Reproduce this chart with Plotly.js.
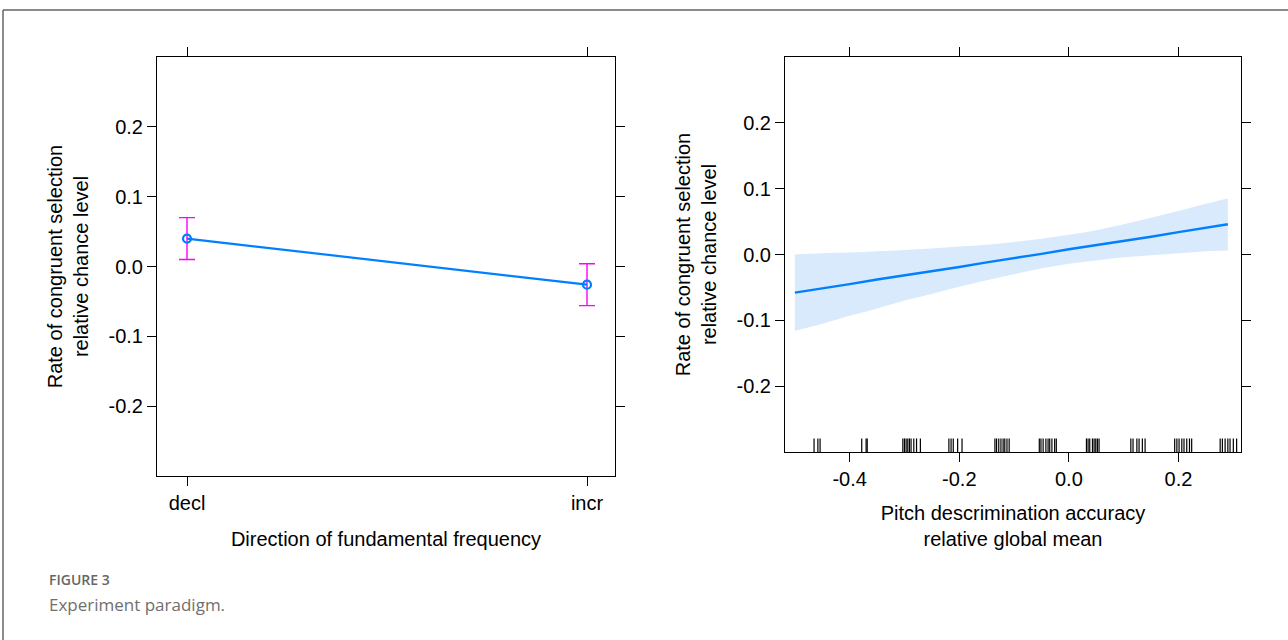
<!DOCTYPE html>
<html>
<head>
<meta charset="utf-8">
<script src="https://cdn.plot.ly/plotly-3.0.1.min.js"></script>
<style>html,body{margin:0;padding:0;background:#fff;}#chart{width:1288px;height:640px;}</style>
</head>
<body>
<div id="chart"></div>
<script>
// ---- Left panel data ----
const directions = ['decl', 'incr'];
const effect = [0.040, -0.026];
const ciUpper = [0.070, 0.004];
const ciLower = [0.010, -0.056];

// ---- Right panel data ----
const pitchX = [-0.50, -0.45, -0.40, -0.35, -0.30, -0.25, -0.20, -0.15, -0.10, -0.05, 0.00, 0.05, 0.10, 0.15, 0.20, 0.25, 0.29];
const fitY = [-0.058, -0.052, -0.045, -0.038, -0.032, -0.025, -0.019, -0.012, -0.006, 0.001, 0.008, 0.014, 0.021, 0.027, 0.034, 0.041, 0.046];
const bandUpper = [0.000, 0.002, 0.003, 0.005, 0.007, 0.009, 0.012, 0.015, 0.019, 0.024, 0.030, 0.037, 0.046, 0.056, 0.066, 0.077, 0.085];
const bandLower = [-0.116, -0.105, -0.093, -0.082, -0.070, -0.060, -0.049, -0.039, -0.030, -0.021, -0.014, -0.009, -0.004, -0.001, 0.002, 0.005, 0.006];
const rugX = [-0.465, -0.458, -0.454,
  -0.378, -0.370, -0.368,
  -0.303, -0.300, -0.297, -0.294, -0.291, -0.288, -0.283, -0.278, -0.271,
  -0.219, -0.215, -0.211, -0.203, -0.195,
  -0.135, -0.132, -0.128, -0.124, -0.120, -0.117, -0.113, -0.109,
  -0.054, -0.051, -0.047, -0.042, -0.038, -0.035, -0.031, -0.026, -0.023,
  0.032, 0.035, 0.038, 0.043, 0.046, 0.049, 0.052, 0.055,
  0.113, 0.117, 0.124, 0.128, 0.134, 0.139,
  0.193, 0.197, 0.201, 0.206, 0.210, 0.215, 0.220, 0.224,
  0.276, 0.280, 0.285, 0.290, 0.294, 0.300, 0.306];

// ---- Tick labels ----
const yTickVals = [-0.2, -0.1, 0.0, 0.1, 0.2];
const yTickText = ['-0.2', '-0.1', '0.0', '0.1', '0.2'];
const xTickVals = [-0.4, -0.2, 0.0, 0.2];
const xTickText = ['-0.4', '-0.2', '0.0', '0.2'];

const blue = '#0080ff';
const magenta = '#ff00ff';
const FONT = 'Liberation Sans, Arial, Helvetica, sans-serif';

const errPlus = effect.map((v, i) => ciUpper[i] - v);
const errMinus = effect.map((v, i) => v - ciLower[i]);

const traces = [
  {
    x: directions, y: effect, xaxis: 'x', yaxis: 'y',
    type: 'scatter', mode: 'lines+markers',
    line: {color: blue, width: 2.2},
    marker: {symbol: 'circle-open', size: 8, color: blue, line: {width: 2.2, color: blue}},
    error_y: {type: 'data', symmetric: false, array: errPlus, arrayminus: errMinus,
      color: magenta, thickness: 1.4, width: 8},
    hoverinfo: 'x+y', showlegend: false
  },
  {
    x: pitchX, y: bandLower, xaxis: 'x2', yaxis: 'y2',
    type: 'scatter', mode: 'lines', line: {width: 0, color: 'rgba(0,0,0,0)', shape: 'spline'},
    showlegend: false, hoverinfo: 'skip'
  },
  {
    x: pitchX, y: bandUpper, xaxis: 'x2', yaxis: 'y2',
    type: 'scatter', mode: 'lines', line: {width: 0, color: 'rgba(0,0,0,0)', shape: 'spline'},
    fill: 'tonexty', fillcolor: '#d9eafc',
    showlegend: false, hoverinfo: 'skip'
  },
  {
    x: pitchX, y: fitY, xaxis: 'x2', yaxis: 'y2',
    type: 'scatter', mode: 'lines', line: {color: blue, width: 2.4},
    showlegend: false
  },
  {
    x: rugX, y: rugX.map(() => -0.29), xaxis: 'x2', yaxis: 'y2',
    type: 'scatter', mode: 'markers',
    marker: {symbol: 'line-ns-open', size: 10, color: '#000', line: {width: 1.2, color: '#000'}},
    showlegend: false, hoverinfo: 'x'
  }
];

const axisBase = {
  showline: true, linecolor: '#000', linewidth: 1, mirror: 'ticks',
  ticks: 'outside', ticklen: 9, tickwidth: 1, tickcolor: '#000',
  showgrid: false, zeroline: false,
  tickfont: {family: FONT, size: 20, color: '#000'}
};
const titleFont = {family: FONT, size: 20, color: '#000'};

const layout = {
  width: 1288, height: 640,
  margin: {l: 0, r: 0, t: 0, b: 0},
  paper_bgcolor: '#fff', plot_bgcolor: '#fff',
  showlegend: false,
  xaxis: Object.assign({}, axisBase, {
    domain: [157/1288, 615/1288], anchor: 'y',
    type: 'category', range: [-0.075, 1.07],
    title: {text: 'Direction of fundamental frequency', font: titleFont, standoff: 18}
  }),
  yaxis: Object.assign({}, axisBase, {
    domain: [(640-476)/640, (640-57)/640], anchor: 'x',
    range: [-0.3, 0.3], tickvals: yTickVals, ticktext: yTickText,
    title: {text: 'Rate of congruent selection<br>relative chance level', font: titleFont, standoff: 14}
  }),
  xaxis2: Object.assign({}, axisBase, {
    domain: [785/1288, 1241/1288], anchor: 'y2',
    range: [-0.518, 0.314], tickvals: xTickVals, ticktext: xTickText,
    title: {text: 'Pitch descrimination accuracy<br>relative global mean', font: titleFont, standoff: 16}
  }),
  yaxis2: Object.assign({}, axisBase, {
    domain: [(640-452)/640, (640-57)/640], anchor: 'x2',
    range: [-0.3, 0.3], tickvals: yTickVals, ticktext: yTickText,
    title: {text: 'Rate of congruent selection<br>relative chance level', font: titleFont, standoff: 14}
  }),
  shapes: [
    {type: 'line', xref: 'paper', yref: 'paper', x0: 3/1288, x1: 1, y0: (640-10)/640, y1: (640-10)/640,
      line: {color: '#666', width: 1.5}},
    {type: 'line', xref: 'paper', yref: 'paper', x0: 3/1288, x1: 3/1288, y0: 0, y1: (640-10)/640,
      line: {color: '#666', width: 1.5}}
  ],
  annotations: [
    {text: 'FIGURE 3', xref: 'paper', yref: 'paper', x: 47/1288, y: (640-579)/640,
      xanchor: 'left', yanchor: 'middle', showarrow: false,
      font: {family: 'Open Sans, Noto Sans, sans-serif', size: 14, color: '#666', weight: 600}},
    {text: 'Experiment paradigm.', xref: 'paper', yref: 'paper', x: 47/1288, y: (640-604)/640,
      xanchor: 'left', yanchor: 'middle', showarrow: false,
      font: {family: 'Open Sans, Noto Sans, sans-serif', size: 17, color: '#6f6f6f'}}
  ]
};

Plotly.newPlot('chart', traces, layout, {displayModeBar: false, staticPlot: true});
</script>
</body>
</html>
